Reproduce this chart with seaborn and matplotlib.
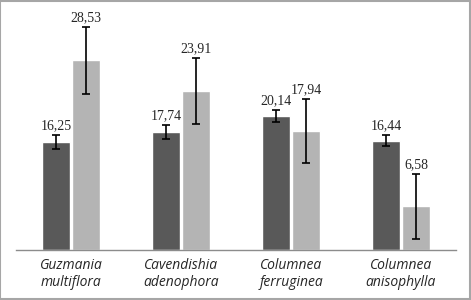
import pandas as pd
import numpy as np
import matplotlib.pyplot as plt
import seaborn as sns

species = ['Guzmania\nmultiflora', 'Cavendishia\nadenophora', 'Columnea\nferruginea', 'Columnea\nanisophylla']
series_names = ['A', 'B']
dark_values = [16.25, 17.74, 20.14, 16.44]
light_values = [28.53, 23.91, 17.94, 6.58]
dark_err = [1.0, 1.0, 0.9, 0.85]
light_err = [5.0, 4.9, 4.8, 4.9]

df = pd.DataFrame({
    'species': species * 2,
    'series': [series_names[0]] * 4 + [series_names[1]] * 4,
    'value': dark_values + light_values,
    'err': dark_err + light_err,
})

sns.set_style('white')

fig = plt.figure(figsize=(4.71, 3.00), dpi=100)
ax = fig.add_axes([16 / 471, 50 / 300, 440 / 471, 36 * 6.65 / 300])

sns.barplot(data=df, x='species', y='value', hue='series',
            palette=['#595959', '#b4b4b4'], width=0.55, gap=0.05,
            errorbar=None, legend=False, ax=ax, saturation=1)

# error bars and value labels, placed on the bars seaborn drew
for cont, vals, errs in zip(ax.containers, [dark_values, light_values], [dark_err, light_err]):
    for bar, v, e in zip(cont, vals, errs):
        xc = bar.get_x() + bar.get_width() / 2
        ax.errorbar(xc, v, yerr=e, color='black', lw=1.2, capsize=2.8, capthick=1.2)
        ax.annotate(f'{v:.2f}'.replace('.', ','), (xc, v + e), xytext=(0, 2),
                    textcoords='offset points', ha='center', va='bottom',
                    fontsize=10, family='Liberation Serif')

ax.set_xlim(-0.5, 3.5)
ax.set_ylim(0, 36)
ax.set_xlabel('')
ax.set_ylabel('')
ax.set_yticks([])
for s in ['top', 'right', 'left']:
    ax.spines[s].set_visible(False)
ax.spines['bottom'].set_color('#8c8c8c')
ax.spines['bottom'].set_linewidth(1)

ax.set_xticks(range(4))
ax.set_xticklabels(species, fontstyle='italic', fontsize=10, family='Open Sans', linespacing=1.15)
ax.tick_params(axis='x', which='major', length=0, pad=6)
ax.set_xticks(np.arange(-0.5, 4, 1), minor=True)
ax.tick_params(axis='x', which='minor', length=5, color='#8c8c8c', width=1, direction='out')

# grey frame around the picture
fig.patches.append(plt.Rectangle((0.001, 0.002), 0.997, 0.995, transform=fig.transFigure,
                                 fill=False, edgecolor='#a6a6a6', lw=1.5))

fig.savefig('out.png', dpi=100)
